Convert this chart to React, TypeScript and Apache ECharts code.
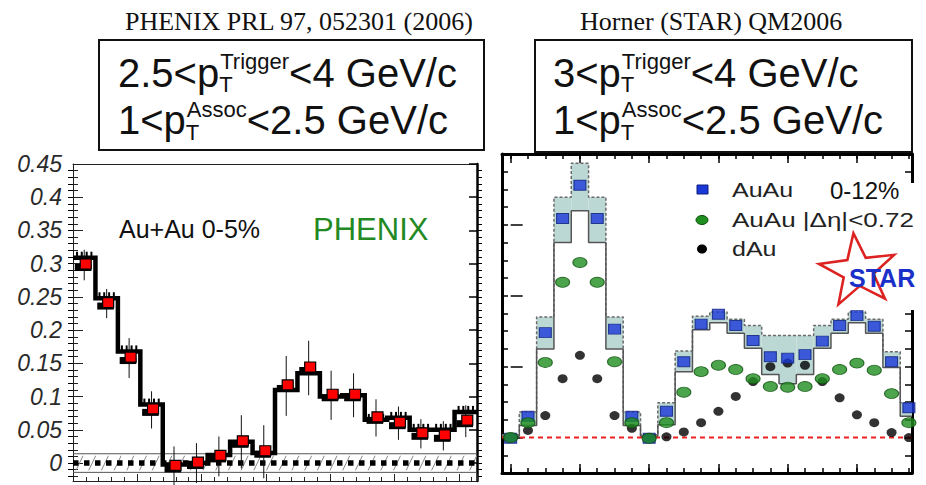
import React, { useEffect, useRef } from 'react';
import * as echarts from 'echarts';

const PI = Math.PI;

// ---------------- PHENIX panel (left) ----------------
const phenixBinCount = 18;
// jet function points (red squares)
const phenixPoints = [0.298, 0.240, 0.158, 0.080, -0.005, 0.000, 0.010, 0.032, 0.017, 0.116, 0.143, 0.102, 0.102, 0.068, 0.060, 0.044, 0.041, 0.063];
// statistical errors
const phenixStatErr = [0.023, 0.022, 0.030, 0.028, 0.030, 0.030, 0.030, 0.040, 0.040, 0.045, 0.041, 0.037, 0.033, 0.028, 0.025, 0.022, 0.022, 0.024];
// black step histogram
const phenixHist = [0.309, 0.248, 0.168, 0.088, -0.002, 0.000, 0.012, 0.032, 0.015, 0.110, 0.135, 0.100, 0.102, 0.065, 0.068, 0.050, 0.050, 0.077];
// bins where the histogram carries small error ticks
const phenixCombBins = [0, 1, 2, 3, 13, 14, 15, 16, 17];
const phenixYTicks = [0, 0.05, 0.1, 0.15, 0.2, 0.25, 0.3, 0.35, 0.4, 0.45];
const phenixZyamErr = 0.014;

// ---------------- STAR panel (right) ----------------
const starBinCount = 24;
const starAuAu = [-0.001, 0.030, 0.148, 0.309, 0.356, 0.309, 0.153, 0.030, -0.001, 0.037, 0.107, 0.160, 0.174, 0.158, 0.137, 0.114, 0.112, 0.117, 0.136, 0.158, 0.172, 0.157, 0.107, 0.042];
const starAuAuEta = [0.000, 0.021, 0.106, 0.219, 0.247, 0.219, 0.107, 0.021, -0.001, 0.021, 0.064, 0.093, 0.102, 0.096, 0.083, 0.072, 0.071, 0.072, 0.083, 0.096, 0.105, 0.095, 0.062, 0.021];
const starDAu = [0.000, 0.010, 0.031, 0.083, 0.116, 0.083, 0.031, 0.013, 0.000, 0.001, 0.008, 0.021, 0.037, 0.058, 0.079, 0.100, 0.105, 0.102, 0.079, 0.056, 0.032, 0.021, 0.007, 0.000];
const starBandHigh = [0.004, 0.036, 0.170, 0.339, 0.387, 0.339, 0.170, 0.036, 0.004, 0.049, 0.122, 0.171, 0.177, 0.167, 0.158, 0.144, 0.144, 0.144, 0.158, 0.167, 0.177, 0.167, 0.121, 0.049];
const starBandLow = [0.002, 0.017, 0.125, 0.275, 0.320, 0.275, 0.125, 0.017, 0.002, 0.018, 0.093, 0.152, 0.162, 0.147, 0.126, 0.089, 0.076, 0.089, 0.126, 0.147, 0.162, 0.147, 0.099, 0.030];
const starXMin = -0.5;
const starXMax = 23.18;
const starYMajor = [0, 0.1, 0.2, 0.3];

const SANS = '"Liberation Sans", Arial, Helvetica, sans-serif';
const SERIF = '"Liberation Serif", "Times New Roman", serif';

function range(a: number, b: number, step: number): number[] {
  const out: number[] = [];
  for (let v = a; v <= b + 1e-9; v += step) out.push(Math.round(v * 1000) / 1000);
  return out;
}

let measureCtx: CanvasRenderingContext2D | null = null;
function measure(text: string, size: number, family: string): number {
  if (!measureCtx) measureCtx = document.createElement('canvas').getContext('2d');
  if (!measureCtx) return text.length * size * 0.55;
  measureCtx.font = `${size}px ${family}`;
  return measureCtx.measureText(text).width;
}

function txt(text: string, x: number, y: number, size: number, o: any = {}) {
  const align = o.align || 'left';
  return {
    type: 'text',
    x, y,
    scaleX: o.scaleX || 1,
    z: o.z || 60,
    style: {
      text,
      x: 0, y: 0,
      fill: o.color || '#111',
      fontSize: size,
      fontFamily: o.family || SANS,
      fontWeight: o.weight || 'normal',
      fontStyle: o.style || 'normal',
      align, textAlign: align,
      verticalAlign: 'middle', textVerticalAlign: 'middle',
    },
  };
}

// pT line with sub/superscripts; returns graphic elements
function ptLine(x0: number, ymid: number, pre: string, sup: string, post: string, subDy: number, supDy: number) {
  const F = 40, S = 22;
  const els: any[] = [];
  let x = x0;
  els.push(txt(pre, x, ymid, F));
  x += measure(pre, F, SANS);
  els.push(txt('T', x, ymid + subDy, S));
  els.push(txt(sup, x + 1, ymid + supDy, S));
  x += Math.max(measure('T', S, SANS), measure(sup, S, SANS) + 1);
  els.push(txt(post, x, ymid, F));
  return els;
}

function buildOption() {
  const bw = PI / phenixBinCount;
  const center = (i: number) => (i + 0.5) * bw;

  const histEdges: number[][] = [];
  phenixHist.forEach((v, i) => { histEdges.push([i * bw, v]); histEdges.push([(i + 1) * bw, v]); });

  const stepEdges = (arr: number[]) => {
    const out: number[][] = [];
    arr.forEach((v, i) => {
      out.push([Math.max(i - 0.5, starXMin), v]);
      out.push([Math.min(i + 0.5, starXMax), v]);
    });
    return out;
  };

  const starIdx = range(0, starBinCount - 1, 1);
  const starMajorX = [0, 4, 8, 12, 16, 20];

  // star polygon points
  const starPts: number[][] = [];
  for (let k = 0; k < 10; k++) {
    const r = k % 2 === 0 ? 38 : 15;
    const a = -PI / 2 + k * PI / 5;
    starPts.push([r * Math.cos(a), r * Math.sin(a)]);
  }

  const baseX = {
    type: 'value',
    splitLine: { show: false },
    axisLabel: { show: false },
  };

  const graphics: any[] = [
    // titles
    txt('PHENIX PRL 97, 052301 (2006)', 125, 21, 26, { family: SERIF }),
    txt('Horner (STAR) QM2006', 580, 21, 26, { family: SERIF }),
    // header boxes
    { type: 'rect', z: 55, shape: { x: 99, y: 40, width: 385, height: 110 }, style: { fill: '#fff', stroke: '#111', lineWidth: 2 } },
    { type: 'rect', z: 55, shape: { x: 535, y: 40, width: 377, height: 112 }, style: { fill: '#fff', stroke: '#111', lineWidth: 2 } },
    ...ptLine(118, 73, '2.5<p', 'Trigger', '<4 GeV/c', 11, -12),
    ...ptLine(118, 120, '1<p', 'Assoc', '<2.5 GeV/c', 12, -11),
    ...ptLine(553, 73, '3<p', 'Trigger', '<4 GeV/c', 11, -12),
    ...ptLine(553, 120, '1<p', 'Assoc', '<2.5 GeV/c', 12, -11),
    // PHENIX panel texts
    txt('Au+Au 0-5%', 119, 229, 25),
    txt('PHENIX', 313, 229, 31, { color: '#238a23' }),
    // STAR legend area
    { type: 'rect', z: 50, shape: { x: 842, y: 183, width: 84, height: 127 }, style: { fill: '#fff' } },
    { type: 'rect', z: 60, shape: { x: 697, y: 185, width: 11, height: 9 }, style: { fill: '#1a38d8', stroke: '#0c1f7a', lineWidth: 1 } },
    { type: 'ellipse', z: 60, shape: { cx: 702, cy: 220, rx: 6, ry: 4.5 }, style: { fill: '#1f8f1f', stroke: '#0b4f0b', lineWidth: 1 } },
    { type: 'ellipse', z: 60, shape: { cx: 702, cy: 249, rx: 5, ry: 4.5 }, style: { fill: '#000' } },
    txt('AuAu', 732, 190, 20, { scaleX: 1.25, color: '#222' }),
    txt('0-12%', 830, 190, 24, { color: '#111' }),
    txt('AuAu |Δη|<0.72', 732, 220, 20, { scaleX: 1.3, color: '#222' }),
    txt('dAu', 732, 249, 20, { scaleX: 1.25, color: '#222' }),
    { type: 'polygon', z: 58, x: 858, y: 271, scaleX: 1.05, rotation: 0.12, shape: { points: starPts }, style: { fill: 'none', stroke: '#dd2222', lineWidth: 2.5 } },
    txt('STAR', 849, 278, 25, { weight: 'bold', color: '#1b30c8', z: 61 }),
  ];

  return {
    animation: false,
    backgroundColor: '#fff',
    grid: [
      { left: 73, top: 164, width: 404, height: 317 },
      { left: 502, top: 154, width: 410, height: 319 },
    ],
    xAxis: [
      // 0: PHENIX bottom
      { ...baseX, gridIndex: 0, position: 'bottom', min: 0, max: PI, interval: 0.5,
        axisLine: { show: true, onZero: false, lineStyle: { color: '#222', width: 1 } },
        axisTick: { show: true, inside: true, length: 7, lineStyle: { color: '#222' } },
        minorTick: { show: true, splitNumber: 5, length: 4, lineStyle: { color: '#222' } } },
      // 1: PHENIX top line
      { ...baseX, gridIndex: 0, position: 'top', min: 0, max: PI,
        axisLine: { show: true, onZero: false, lineStyle: { color: '#222', width: 1 } },
        axisTick: { show: false } },
      // 2: STAR bottom minor ticks
      { ...baseX, gridIndex: 1, position: 'bottom', offset: 0, min: starXMin, max: starXMax,
        axisLine: { show: true, onZero: false, lineStyle: { color: '#000', width: 3 } },
        axisTick: { show: true, inside: true, length: 5, customValues: starIdx, lineStyle: { color: '#000', width: 1.5 } } },
      // 3: STAR bottom major ticks
      { ...baseX, gridIndex: 1, position: 'bottom', offset: 0, min: starXMin, max: starXMax,
        axisLine: { show: false, onZero: false },
        axisTick: { show: true, inside: true, length: 9, customValues: starMajorX, lineStyle: { color: '#000', width: 1.5 } } },
      // 4: STAR top minor ticks
      { ...baseX, gridIndex: 1, position: 'top', offset: 0, min: starXMin, max: starXMax,
        axisLine: { show: true, onZero: false, lineStyle: { color: '#000', width: 3 } },
        axisTick: { show: true, inside: true, length: 5, customValues: starIdx, lineStyle: { color: '#000', width: 1.5 } } },
      // 5: STAR top major ticks
      { ...baseX, gridIndex: 1, position: 'top', offset: 0, min: starXMin, max: starXMax,
        axisLine: { show: false, onZero: false },
        axisTick: { show: true, inside: true, length: 9, customValues: starMajorX, lineStyle: { color: '#000', width: 1.5 } } },
    ],
    yAxis: [
      // 0: PHENIX left, major ticks + labels
      { type: 'value', gridIndex: 0, position: 'left', offset: 0, min: -0.027, max: 0.45,
        splitLine: { show: false },
        axisLine: { show: true, onZero: false, lineStyle: { color: '#222', width: 1 } },
        axisTick: { show: true, inside: true, length: 10, customValues: phenixYTicks, lineStyle: { color: '#222' } },
        axisLabel: { show: true, customValues: phenixYTicks, margin: 11, fontSize: 23, fontStyle: 'italic', fontFamily: SANS, color: '#2a2a2a',
          formatter: (v: number) => String(v) } },
      // 1: PHENIX left minor ticks
      { type: 'value', gridIndex: 0, position: 'left', offset: 0, min: -0.027, max: 0.45,
        splitLine: { show: false }, axisLine: { show: false }, axisLabel: { show: false },
        axisTick: { show: true, inside: true, length: 5, customValues: range(-0.02, 0.44, 0.01), lineStyle: { color: '#222' } } },
      // 2: PHENIX right, inside major
      { type: 'value', gridIndex: 0, position: 'right', offset: 0, min: -0.027, max: 0.45,
        splitLine: { show: false }, axisLabel: { show: false },
        axisLine: { show: true, onZero: false, lineStyle: { color: '#000', width: 2.5 } },
        axisTick: { show: true, inside: true, length: 8, customValues: phenixYTicks, lineStyle: { color: '#000', width: 1.5 } } },
      // 3: PHENIX right, inside minor
      { type: 'value', gridIndex: 0, position: 'right', offset: 0, min: -0.027, max: 0.45,
        splitLine: { show: false }, axisLabel: { show: false }, axisLine: { show: false },
        axisTick: { show: true, inside: true, length: 5, customValues: range(-0.02, 0.44, 0.01), lineStyle: { color: '#000' } } },
      // 4: PHENIX right, outside ticks
      { type: 'value', gridIndex: 0, position: 'right', offset: 0, min: -0.027, max: 0.45,
        splitLine: { show: false }, axisLabel: { show: false }, axisLine: { show: false },
        axisTick: { show: true, inside: false, length: 5, customValues: range(-0.02, 0.44, 0.01), lineStyle: { color: '#000' } } },
      // 5: STAR left minor
      { type: 'value', gridIndex: 1, position: 'left', offset: 0, min: -0.05, max: 0.4,
        splitLine: { show: false }, axisLabel: { show: false },
        axisLine: { show: true, onZero: false, lineStyle: { color: '#000', width: 3 } },
        axisTick: { show: true, inside: true, length: 6, customValues: range(-0.025, 0.375, 0.025), lineStyle: { color: '#000', width: 1.5 } } },
      // 6: STAR left major
      { type: 'value', gridIndex: 1, position: 'left', offset: 0, min: -0.05, max: 0.4,
        splitLine: { show: false }, axisLabel: { show: false }, axisLine: { show: false },
        axisTick: { show: true, inside: true, length: 12, customValues: starYMajor, lineStyle: { color: '#000', width: 1.5 } } },
      // 7: STAR right
      { type: 'value', gridIndex: 1, position: 'right', offset: 0, min: -0.05, max: 0.4,
        splitLine: { show: false }, axisLabel: { show: false },
        axisLine: { show: true, onZero: false, lineStyle: { color: '#000', width: 3 } },
        axisTick: { show: true, inside: true, length: 7, customValues: range(-0.025, 0.375, 0.025), lineStyle: { color: '#000', width: 1.5 } } },
    ],
    series: [
      // ---- PHENIX ----
      { // hatched ZYAM band
        type: 'custom', xAxisIndex: 0, yAxisIndex: 0, z: 1, silent: true,
        data: [[0, 0]],
        renderItem: (_p: any, api: any) => {
          const tl = api.coord([0, phenixZyamErr]);
          const br = api.coord([PI, -phenixZyamErr]);
          const ch: any[] = [
            { type: 'line', shape: { x1: tl[0], y1: tl[1], x2: br[0], y2: tl[1] }, style: { stroke: '#555', lineWidth: 1 } },
            { type: 'line', shape: { x1: tl[0], y1: br[1], x2: br[0], y2: br[1] }, style: { stroke: '#555', lineWidth: 1 } },
          ];
          for (let x = tl[0] + 3; x + 7 < br[0]; x += 12.7) {
            ch.push({ type: 'line', shape: { x1: x, y1: br[1] - 2, x2: x + 7, y2: tl[1] + 2 }, style: { stroke: '#888', lineWidth: 1 } });
          }
          return { type: 'group', children: ch };
        },
      },
      { // dashed zero line
        type: 'line', xAxisIndex: 0, yAxisIndex: 0, z: 2, symbol: 'none', silent: true,
        data: [[0, 0], [PI, 0]],
        lineStyle: { color: '#000', width: 5.5, type: [5.5, 5.5] },
      },
      { // step histogram
        type: 'line', xAxisIndex: 0, yAxisIndex: 0, z: 3, symbol: 'none', silent: true,
        data: histEdges,
        lineStyle: { color: '#000', width: 4.5, join: 'miter' },
      },
      { // comb ticks on the histogram
        type: 'custom', xAxisIndex: 0, yAxisIndex: 0, z: 3, silent: true,
        data: phenixCombBins.map((i) => [center(i), phenixHist[i]]),
        renderItem: (_p: any, api: any) => {
          const xc = api.value(0), v = api.value(1);
          const ch = [-0.32, -0.11, 0.11, 0.32].map((k) => {
            const a = api.coord([xc + k * bw, v]);
            const b = api.coord([xc + k * bw, v + 0.009]);
            return { type: 'line', shape: { x1: a[0], y1: a[1], x2: b[0], y2: b[1] }, style: { stroke: '#000', lineWidth: 2 } };
          });
          return { type: 'group', children: ch };
        },
      },
      { // error bars
        type: 'custom', xAxisIndex: 0, yAxisIndex: 0, z: 4, silent: true,
        data: phenixPoints.map((v, i) => [center(i), v - phenixStatErr[i], v + phenixStatErr[i]]),
        encode: { x: 0, y: [1, 2] },
        renderItem: (_p: any, api: any) => {
          const lo = api.coord([api.value(0), api.value(1)]);
          const hi = api.coord([api.value(0), api.value(2)]);
          return { type: 'line', shape: { x1: lo[0], y1: lo[1], x2: hi[0], y2: hi[1] }, style: { stroke: '#111', lineWidth: 1 } };
        },
      },
      { // points with systematic boxes
        type: 'custom', xAxisIndex: 0, yAxisIndex: 0, z: 5, silent: true,
        data: phenixPoints.map((v, i) => [center(i), v]),
        renderItem: (_p: any, api: any) => {
          const c = api.coord([api.value(0), api.value(1)]);
          const w = api.size([bw, 0])[0];
          return {
            type: 'group',
            children: [
              { type: 'rect', shape: { x: c[0] - w * 0.42, y: c[1] - 1, width: w * 0.74, height: 7 }, style: { fill: '#000' } },
              { type: 'rect', shape: { x: c[0] - 4, y: c[1] - 6, width: 11, height: 10 }, style: { fill: '#ff0000', stroke: '#000', lineWidth: 1.2 } },
            ],
          };
        },
      },
      // ---- STAR ----
      { // systematic band
        type: 'custom', xAxisIndex: 2, yAxisIndex: 5, z: 1, silent: true,
        data: starBandLow.map((lo, i) => [i, lo, starBandHigh[i]]),
        encode: { x: 0, y: [1, 2] },
        renderItem: (_p: any, api: any) => {
          const i = api.value(0);
          const p1 = api.coord([Math.max(i - 0.5, starXMin), api.value(2)]);
          const p2 = api.coord([Math.min(i + 0.5, starXMax), api.value(1)]);
          return { type: 'rect', shape: { x: p1[0], y: p1[1], width: p2[0] - p1[0], height: p2[1] - p1[1] }, style: { fill: '#bcd8d4' } };
        },
      },
      { // upper band edge (dashed)
        type: 'line', xAxisIndex: 2, yAxisIndex: 5, z: 2, symbol: 'none', silent: true,
        data: stepEdges(starBandHigh),
        lineStyle: { color: '#6a6a6a', width: 1.5, type: [3, 2] },
      },
      { // lower band edge (solid)
        type: 'line', xAxisIndex: 2, yAxisIndex: 5, z: 2, symbol: 'none', silent: true,
        data: stepEdges(starBandLow),
        lineStyle: { color: '#555', width: 1.5 },
      },
      { // red dashed zero line
        type: 'line', xAxisIndex: 2, yAxisIndex: 5, z: 3, symbol: 'none', silent: true,
        data: [[starXMin, 0], [starXMax, 0]],
        lineStyle: { color: '#ee2020', width: 2, type: [5, 4] },
      },
      { // dAu
        name: 'dAu', type: 'scatter', xAxisIndex: 2, yAxisIndex: 5, z: 4, silent: true,
        data: starDAu.map((v, i) => [i, v]),
        symbol: 'circle', symbolSize: [10, 9],
        itemStyle: { color: '#000' },
      },
      { // AuAu 0-12%
        name: 'AuAu', type: 'scatter', xAxisIndex: 2, yAxisIndex: 5, z: 5, silent: true,
        data: starAuAu.map((v, i) => [i, v]),
        symbol: 'rect', symbolSize: [12, 10],
        itemStyle: { color: '#1a38d8', borderColor: '#0c1f7a', borderWidth: 1 },
      },
      { // AuAu |Δη|<0.72
        name: 'AuAu |Δη|<0.72', type: 'scatter', xAxisIndex: 2, yAxisIndex: 5, z: 6, silent: true,
        data: starAuAuEta.map((v, i) => [i, v]),
        symbol: 'circle', symbolSize: [14, 10],
        itemStyle: { color: '#1f8f1f', borderColor: '#0b4f0b', borderWidth: 1 },
      },
    ],
    graphic: graphics,
  };
}

export default function App() {
  const ref = useRef<HTMLDivElement>(null);
  useEffect(() => {
    if (!ref.current) return;
    const chart = echarts.init(ref.current, null, { renderer: 'svg' });
    chart.setOption(buildOption() as any);
    return () => chart.dispose();
  }, []);
  return (
    <div
      ref={ref}
      style={{ position: 'absolute', left: 0, top: 0, width: 926, height: 485, background: '#fff' }}
    />
  );
}
